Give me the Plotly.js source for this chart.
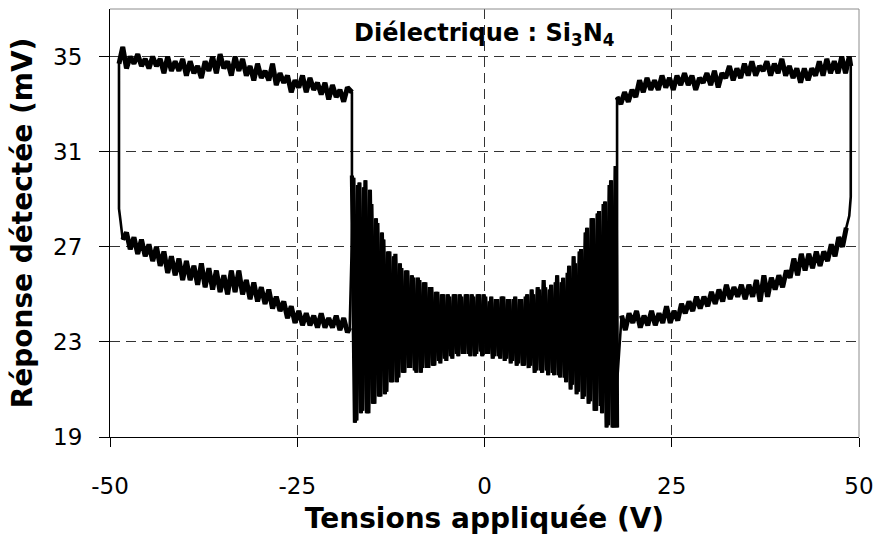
<!DOCTYPE html>
<html>
<head>
<meta charset="utf-8">
<script src="https://cdn.plot.ly/plotly-3.0.1.min.js"></script>
<style>html,body{margin:0;padding:0;background:#fff;}#chart{width:877px;height:545px;}</style>
</head>
<body>
<div id="chart"></div>
<script>
// Tick labels / grid positions
const xTicks = [-50, -25, 0, 25, 50];
const xGrid = [-25, 0, 25];
const yTicks = [19, 23, 27, 31, 35];

// Upper-left branch (noisy band)
const ulX = [-48.8,-48.3,-47.8,-47.3,-46.8,-46.3,-45.8,-45.3,-44.8,-44.3,-43.8,-43.3,-42.8,-42.3,-41.8,-41.3,-40.8,-40.3,-39.8,-39.3,-38.8,-38.3,-37.8,-37.3,-36.8,-36.3,-35.8,-35.3,-34.8,-34.3,-33.8,-33.3,-32.8,-32.3,-31.8,-31.3,-30.8,-30.3,-29.8,-29.3,-28.8,-28.3,-27.8,-27.3,-26.8,-26.3,-25.8,-25.3,-24.8,-24.3,-23.8,-23.3,-22.8,-22.3,-21.8,-21.3,-20.8,-20.3,-19.8,-19.3,-18.8,-18.3,-17.7];
const ulY = [34.7,35.4,34.5,35.0,34.7,35.1,34.6,34.9,34.5,35.0,34.6,34.9,34.3,35.0,34.4,34.8,34.4,34.9,34.2,34.8,34.3,34.6,34.1,34.8,34.4,35.0,34.3,35.1,34.5,34.8,34.2,35.0,34.4,34.9,34.2,34.6,34.0,34.7,34.1,34.4,34.0,34.7,33.8,34.3,33.9,34.2,33.5,34.0,33.7,34.2,33.5,34.1,33.6,33.9,33.4,33.9,33.2,33.8,33.3,33.6,33.1,33.7,33.5];

// Drop at the left switching voltage
const leftDropX = [-17.7];
const leftDropY = [33.4];

// First pass through the central oscillating region
const oscAX = [-17.7,-17.3,-16.9,-16.5,-16.1,-15.7,-15.3,-14.9,-14.5,-14.1,-13.7,-13.3,-12.9,-12.5,-12.1,-11.7,-11.3,-10.9,-10.5,-10.1,-9.7,-9.3,-8.9,-8.5,-8.1,-7.7,-7.3,-6.9,-6.5,-6.1,-5.7,-5.3,-4.9,-4.5,-4.1,-3.7,-3.3,-2.9,-2.5,-2.1,-1.7,-1.3,-0.9,-0.5,-0.1,0.3,0.7,1.1,1.5,1.9,2.3,2.7,3.1,3.5,3.9,4.3,4.7,5.1,5.5,5.9,6.3,6.7,7.1,7.5,7.9,8.3,8.7,9.1,9.5,9.9,10.3,10.7,11.1,11.5,11.9,12.3,12.7,13.1,13.5,13.9,14.3,14.7,15.1,15.5,15.9,16.3,16.7,17.1,17.5,17.7];
const oscAY = [30.0,19.6,29.6,20.0,29.5,20.0,29.4,20.4,28.2,20.7,27.6,20.8,26.8,21.3,26.6,21.3,26.3,21.7,26.0,21.9,25.8,21.8,25.7,21.7,25.5,21.9,25.3,22.0,25.1,22.2,25.0,22.3,25.0,22.4,25.0,22.5,25.0,22.5,25.0,22.5,25.0,22.4,25.0,22.6,25.0,22.5,24.7,22.3,24.8,22.4,24.9,22.2,24.8,22.1,24.8,22.0,24.8,22.0,24.9,21.9,25.2,21.7,25.3,21.8,25.6,21.8,25.2,21.7,25.5,21.6,25.5,21.5,25.9,21.0,26.6,20.8,26.8,20.6,27.6,20.4,28.2,20.1,28.4,20.3,28.8,19.4,29.6,19.4,30.4,19.4];

// Upper-right branch (noisy band)
const urX = [17.7,18.2,18.7,19.2,19.7,20.2,20.7,21.2,21.7,22.2,22.7,23.2,23.7,24.2,24.7,25.2,25.7,26.2,26.7,27.2,27.7,28.2,28.7,29.2,29.7,30.2,30.7,31.2,31.7,32.2,32.7,33.2,33.7,34.2,34.7,35.2,35.7,36.2,36.7,37.2,37.7,38.2,38.7,39.2,39.7,40.2,40.7,41.2,41.7,42.2,42.7,43.2,43.7,44.2,44.7,45.2,45.7,46.2,46.7,47.2,47.7,48.2,48.7,48.9];
const urY = [33.3,33.0,33.5,33.1,33.6,33.3,34.0,33.5,34.1,33.6,34.0,33.6,34.2,33.7,34.1,33.6,34.2,33.8,34.3,33.8,34.2,33.6,34.1,33.9,34.3,33.8,34.4,33.7,34.3,34.1,34.6,34.0,34.5,34.1,34.7,34.2,34.8,34.2,34.6,34.4,34.8,34.2,34.7,34.3,34.9,34.2,34.6,34.1,34.5,33.9,34.5,34.0,34.5,34.2,34.8,34.2,34.9,34.3,34.8,34.3,35.0,34.3,35.0,34.6];

// Drop at the right end of the sweep
const rightDropX = [48.9, 48.7];
const rightDropY = [29.1, 28.3];

// Lower-right branch (return sweep, noisy band)
const lrX = [48.3,47.8,47.3,46.8,46.3,45.8,45.3,44.8,44.3,43.8,43.3,42.8,42.3,41.8,41.3,40.8,40.3,39.8,39.3,38.8,38.3,37.8,37.3,36.8,36.3,35.8,35.3,34.8,34.3,33.8,33.3,32.8,32.3,31.8,31.3,30.8,30.3,29.8,29.3,28.8,28.3,27.8,27.3,26.8,26.3,25.8,25.3,24.8,24.3,23.8,23.3,22.8,22.3,21.8,21.3,20.8,20.3,19.8,19.3,18.8,18.3];
const lrY = [27.8,27.0,27.4,26.6,27.1,26.4,26.8,26.2,26.8,26.1,26.7,26.0,26.7,25.8,26.5,25.7,26.0,25.3,25.8,25.2,25.7,24.9,25.8,24.7,25.6,24.9,25.4,24.8,25.4,24.9,25.3,24.8,25.4,24.7,25.2,24.6,25.1,24.5,24.9,24.4,24.9,24.3,24.7,24.2,24.6,23.9,24.3,23.8,24.5,23.8,24.2,23.7,24.3,23.7,24.1,23.6,24.3,23.8,24.2,23.5,24.1];

// Second pass through the central oscillating region
const oscBX = [17.3,16.9,16.5,16.1,15.7,15.3,14.9,14.5,14.1,13.7,13.3,12.9,12.5,12.1,11.7,11.3,10.9,10.5,10.1,9.7,9.3,8.9,8.5,8.1,7.7,7.3,6.9,6.5,6.1,5.7,5.3,4.9,4.5,4.1,3.7,3.3,2.9,2.5,2.1,1.7,1.3,0.9,0.5,0.1,-0.3,-0.7,-1.1,-1.5,-1.9,-2.3,-2.7,-3.1,-3.5,-3.9,-4.3,-4.7,-5.1,-5.5,-5.9,-6.3,-6.7,-7.1,-7.5,-7.9,-8.3,-8.7,-9.1,-9.5,-9.9,-10.3,-10.7,-11.1,-11.5,-11.9,-12.3,-12.7,-13.1,-13.5,-13.9,-14.3,-14.7,-15.1,-15.5,-15.9,-16.3,-16.7,-17.1,-17.5];
const oscBY = [19.4,29.8,19.5,28.9,20.0,28.5,20.1,28.2,20.5,27.8,20.7,26.9,20.9,26.3,21.2,26.2,21.3,25.7,21.5,25.8,21.6,25.4,21.6,25.3,21.7,25.2,21.8,25.0,22.0,25.0,22.0,24.8,22.1,24.9,22.2,24.8,22.3,24.9,22.3,24.8,22.4,24.9,22.5,24.9,22.4,25.0,22.5,24.9,22.4,25.0,22.5,24.9,22.4,25.0,22.3,24.9,22.2,25.0,22.1,25.1,22.0,25.3,21.9,25.5,21.9,25.6,21.7,25.7,21.9,26.0,21.7,26.1,21.5,26.7,21.3,26.8,20.9,27.3,20.7,28.0,20.4,28.8,20.0,29.8,20.1,29.7,19.7,29.9];

// Lower-left branch (noisy band)
const llX = [-18.0,-18.3,-18.8,-19.3,-19.8,-20.3,-20.8,-21.3,-21.8,-22.3,-22.8,-23.3,-23.8,-24.3,-24.8,-25.3,-25.8,-26.3,-26.8,-27.3,-27.8,-28.3,-28.8,-29.3,-29.8,-30.3,-30.8,-31.3,-31.8,-32.3,-32.8,-33.3,-33.8,-34.3,-34.8,-35.3,-35.8,-36.3,-36.8,-37.3,-37.8,-38.3,-38.8,-39.3,-39.8,-40.3,-40.8,-41.3,-41.8,-42.3,-42.8,-43.3,-43.8,-44.3,-44.8,-45.3,-45.8,-46.3,-46.8,-47.3,-47.8,-48.3];
const llY = [23.6,23.4,24.0,23.5,24.1,23.6,24.0,23.6,24.2,23.6,24.1,23.7,24.2,23.7,24.3,23.8,24.5,24.0,24.7,24.3,24.9,24.4,25.2,24.6,25.3,24.7,25.5,24.8,25.6,25.0,26.0,25.1,26.0,25.0,25.8,25.1,26.0,25.2,26.1,25.3,26.3,25.4,26.2,25.6,26.4,25.6,26.5,25.8,26.6,25.9,26.8,26.2,27.0,26.4,27.1,26.6,27.3,26.7,27.4,26.9,27.6,27.3];

// Rise back to the upper level at the left end
const leftRiseX = [-48.6, -48.8, -48.8];
const leftRiseY = [28.1, 28.6, 34.8];

const loopX = [].concat(ulX, leftDropX, oscAX, urX, rightDropX, lrX, oscBX, llX, leftRiseX);
const loopY = [].concat(ulY, leftDropY, oscAY, urY, rightDropY, lrY, oscBY, llY, leftRiseY);

const FONT = 'DejaVu Sans, Arial, sans-serif';

function band(x, y, w) {
  return {x: x, y: y, type: 'scatter', mode: 'lines',
          line: {color: '#000', width: w}, xaxis: 'x', yaxis: 'y', hoverinfo: 'skip'};
}

const traces = [
  band(loopX, loopY, 2.6),
  band(ulX, ulY, 5),
  band(urX, urY, 5),
  band(lrX, lrY, 5),
  band(llX, llY, 5),
  band(oscAX, oscAY, 4.2),
  band(oscBX, oscBY, 4.2),
  {x: [], y: [], type: 'scatter', mode: 'lines', xaxis: 'x2', yaxis: 'y', showlegend: false}
];

const layout = {
  width: 877, height: 545,
  margin: {l: 110, r: 18, t: 9, b: 108},
  paper_bgcolor: '#fff', plot_bgcolor: '#fff',
  showlegend: false,
  font: {family: FONT, color: '#000'},
  xaxis: {
    range: [-50, 50], tickmode: 'array', tickvals: xTicks,
    ticktext: xTicks.map(String),
    showgrid: false, zeroline: false,
    showline: true, linecolor: '#000', linewidth: 1,
    ticks: 'outside', ticklen: 9, tickwidth: 1, tickcolor: '#000',
    ticklabelstandoff: 19,
    tickfont: {family: FONT, size: 23, color: '#000'},
    title: {text: 'Tensions appliquée (V)', standoff: 10,
            font: {family: FONT, size: 28, color: '#000', weight: 'bold'}},
    automargin: false
  },
  xaxis2: {
    overlaying: 'x', anchor: 'y', range: [-50, 50],
    tickmode: 'array', tickvals: xGrid, showticklabels: false, ticks: '',
    showgrid: true, gridcolor: '#333', gridwidth: 1, griddash: '10px,6px',
    zeroline: false, showline: false
  },
  yaxis: {
    range: [19, 37], tickmode: 'array', tickvals: yTicks,
    ticktext: yTicks.map(String),
    showgrid: true, gridcolor: '#333', gridwidth: 1, griddash: '10px,6px',
    zeroline: false,
    showline: true, linecolor: '#000', linewidth: 1,
    ticks: 'outside', ticklen: 10, tickwidth: 1, tickcolor: '#000',
    ticklabelstandoff: 12,
    tickfont: {family: FONT, size: 23, color: '#000'},
    title: {text: 'Réponse détectée (mV)', standoff: 12,
            font: {family: FONT, size: 28, color: '#000', weight: 'bold'}},
    automargin: false
  },
  shapes: [
    {type: 'line', xref: 'paper', yref: 'paper', x0: 0, x1: 1, y0: 1, y1: 1,
     line: {color: '#8c8c8c', width: 1}, layer: 'above'},
    {type: 'line', xref: 'paper', yref: 'paper', x0: 1, x1: 1, y0: 0, y1: 1,
     line: {color: '#8c8c8c', width: 1}, layer: 'above'}
  ],
  annotations: [
    {text: '<b>Diélectrique : Si<sub>3</sub>N<sub>4</sub></b>', xref: 'paper', yref: 'y',
     x: 0.5, y: 35.92, xanchor: 'center', yanchor: 'middle', showarrow: false,
     font: {family: FONT, size: 24, color: '#000'}}
  ]
};

Plotly.newPlot('chart', traces, layout, {staticPlot: true, displayModeBar: false});
</script>
</body>
</html>
